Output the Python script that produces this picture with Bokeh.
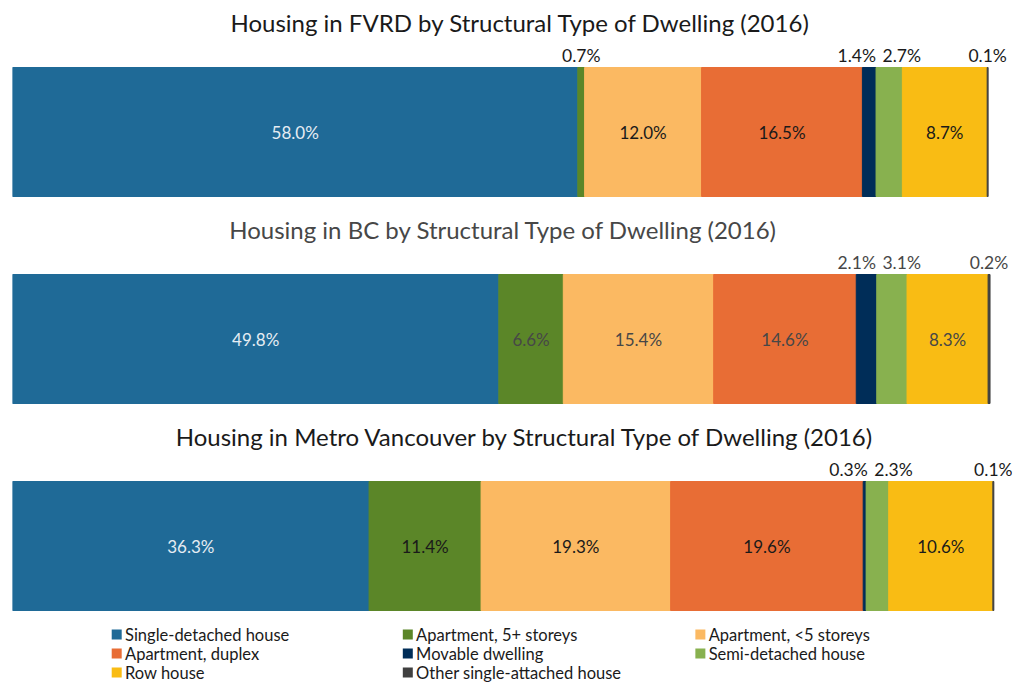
from bokeh.plotting import figure
from bokeh.layouts import column
from bokeh.models import Range1d
from bokeh.core.properties import value
from bokeh.embed import file_html
from bokeh.resources import INLINE

# ---------------- data ----------------
categories = ["Single-detached house", "Apartment, 5+ storeys", "Apartment, <5 storeys",
              "Apartment, duplex", "Movable dwelling", "Semi-detached house",
              "Row house", "Other single-attached house"]
titles = ["Housing in FVRD by Structural Type of Dwelling (2016)",
          "Housing in BC by Structural Type of Dwelling (2016)",
          "Housing in Metro Vancouver by Structural Type of Dwelling (2016)"]
fvrd = [58.0, 0.7, 12.0, 16.5, 1.4, 2.7, 8.7, 0.1]
bc = [49.8, 6.6, 15.4, 14.6, 2.1, 3.1, 8.3, 0.2]
metro = [36.3, 11.4, 19.3, 19.6, 0.3, 2.3, 10.6, 0.1]

# ---------------- style ----------------
colors = ["#1f6a97", "#5b8628", "#fbb962", "#e86d35", "#002d58", "#88b14f", "#f9bc14", "#404040"]
panel_text_colors = ["#1a1a1a", "#474747", "#1a1a1a"]
title_shift_px = [8, -9, 13]
x_max = [102.6, 102.4, 101.8]
FONT = "Lato"
LEFT, RIGHT = 12, 10
FRAME_W = 1000
W = LEFT + FRAME_W + RIGHT
PANEL_H = 207
BAR_PX = 129
BAR_TOP = 67
TITLE_Y = 22
ABOVE_GAP = 12
MIN_SEP_PX = 45
SMALL = 4.0


def panel(title, vals, xmax, tcolor, tshift):
    unit = 1.0 / BAR_PX
    y0 = -0.5 - (PANEL_H - BAR_TOP - BAR_PX) * unit
    y1 = 0.5 + BAR_TOP * unit
    p = figure(width=W, height=PANEL_H, x_range=Range1d(0, xmax), y_range=Range1d(y0, y1),
               output_backend="svg", toolbar_location=None,
               x_axis_location=None, y_axis_location=None,
               min_border_left=LEFT, min_border_right=RIGHT,
               min_border_top=0, min_border_bottom=0)
    p.outline_line_color = None
    p.grid.visible = False

    lefts, rights = [], []
    acc = 0.0
    for v in vals:
        lefts.append(acc)
        acc += v
        rights.append(acc)
    p.hbar(y=[0] * len(vals), left=lefts, right=rights, height=1,
           fill_color=colors, line_color=colors, line_width=1)

    centers = [(l + r) / 2 for l, r in zip(lefts, rights)]
    labels = [f"{v:.1f}%" for v in vals]

    # inside labels
    ins = [i for i, v in enumerate(vals) if v >= SMALL]
    p.text(x=[centers[i] for i in ins], y=[0] * len(ins), text=[labels[i] for i in ins],
           text_align="center", text_baseline="middle", text_font=value(FONT),
           text_font_size="17px",
           text_color=["#e6edf3" if i == 0 else tcolor for i in ins])

    # above labels with simple overlap avoidance
    scale = FRAME_W / xmax
    min_sep = MIN_SEP_PX / scale
    idx = [i for i, v in enumerate(vals) if v < SMALL]
    pos = {i: centers[i] for i in idx}
    for a, b in zip(idx, idx[1:]):
        gap = pos[b] - pos[a]
        if gap < min_sep:
            d = (min_sep - gap) / 2
            pos[a] -= d
            pos[b] += d
    p.text(x=[pos[i] for i in idx], y=[0.5 + ABOVE_GAP * unit] * len(idx),
           text=[labels[i] for i in idx], text_align="center", text_baseline="middle",
           text_font=value(FONT), text_font_size="17.5px", text_color=tcolor)

    p.text(x=[xmax / 2], y=[0.5 + (BAR_TOP - TITLE_Y) * unit], text=[title],
           x_offset=tshift,
           text_align="center", text_baseline="middle", text_font=value(FONT),
           text_font_size="24px", text_color=tcolor)
    return p


panels = [panel(t, v, m, c, s) for t, v, m, c, s in
          zip(titles, [fvrd, bc, metro], x_max, panel_text_colors, title_shift_px)]

# ---------------- legend ----------------
LEG_H = 682 - 3 * PANEL_H
col_x = [106.5, 404, 703]
row_y = [LEG_H - 13, LEG_H - 32, LEG_H - 51]
leg = figure(width=W, height=LEG_H, x_range=Range1d(0, W), y_range=Range1d(0, LEG_H),
             output_backend="svg", toolbar_location=None,
             x_axis_location=None, y_axis_location=None,
             min_border_left=0, min_border_right=0, min_border_top=0, min_border_bottom=0)
leg.outline_line_color = None
leg.grid.visible = False
lx = [col_x[i % 3] for i in range(len(categories))]
ly = [row_y[i // 3] for i in range(len(categories))]
leg.scatter(x=lx, y=ly, marker="square", size=10, fill_color=colors, line_color=None)
leg.text(x=[x + 8.5 for x in lx], y=ly, text=categories, text_align="left",
         text_baseline="middle", text_font=value(FONT), text_font_size="16.5px",
         text_color="#1a1a1a")

layout = column(*panels, leg, spacing=0)
open("out.html", "w").write(file_html(layout, INLINE))
